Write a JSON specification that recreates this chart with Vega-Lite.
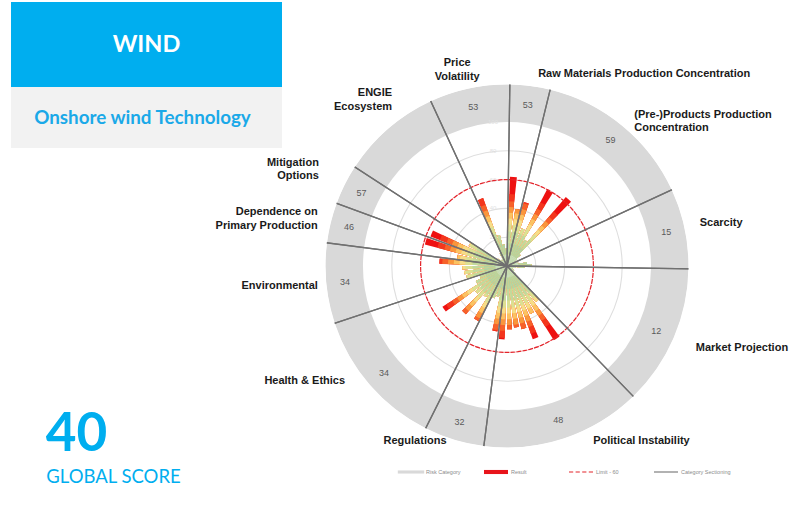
{
  "$schema": "https://vega.github.io/schema/vega-lite/v6.json",
  "padding": {"left": 11, "top": 2, "right": 0, "bottom": 0},
  "background": "white",
  "spacing": 271,
  "bounds": "flush",
  "config": {"view": {"stroke": null}, "font": "Liberation Sans"},
  "datasets": {
    "bars": [
      {"i": 0, "v": 62}, {"i": 1, "v": 40}, {"i": 2, "v": 46}, {"i": 3, "v": 28}, {"i": 4, "v": 60},
      {"i": 5, "v": 22}, {"i": 6, "v": 63}, {"i": 7, "v": 12}, {"i": 8, "v": 8}, {"i": 9, "v": 6},
      {"i": 10, "v": 5}, {"i": 11, "v": 8}, {"i": 12, "v": 14}, {"i": 13, "v": 17},
      {"i": 14, "v": 12}, {"i": 15, "v": 6}, {"i": 16, "v": 4}, {"i": 17, "v": 4}, {"i": 18, "v": 5}, {"i": 19, "v": 6}, {"i": 20, "v": 8},
      {"i": 21, "v": 32}, {"i": 22, "v": 61}, {"i": 23, "v": 37}, {"i": 24, "v": 54}, {"i": 25, "v": 45}, {"i": 26, "v": 43}, {"i": 27, "v": 44}, {"i": 28, "v": 51},
      {"i": 29, "v": 46}, {"i": 30, "v": 22}, {"i": 31, "v": 24},
      {"i": 32, "v": 43}, {"i": 33, "v": 26}, {"i": 34, "v": 44}, {"i": 35, "v": 28}, {"i": 36, "v": 53}, {"i": 37, "v": 24}, {"i": 38, "v": 20},
      {"i": 39, "v": 29}, {"i": 40, "v": 30}, {"i": 41, "v": 31}, {"i": 42, "v": 47},
      {"i": 43, "v": 35}, {"i": 44, "v": 59},
      {"i": 45, "v": 57}, {"i": 46, "v": 30},
      {"i": 47, "v": 8}, {"i": 48, "v": 6}, {"i": 49, "v": 5}, {"i": 50, "v": 6}, {"i": 51, "v": 10},
      {"i": 52, "v": 50}, {"i": 53, "v": 22}, {"i": 54, "v": 15}, {"i": 55, "v": 12}
    ],
    "cats": [
      {"k": 0, "cat": "Raw Materials Production Concentration", "n": 2, "score": "53", "lab": ["Raw Materials Production Concentration"]},
      {"k": 1, "cat": "(Pre-)Products Production Concentration", "n": 8, "score": "59", "lab": ["(Pre-)Products Production", "Concentration"]},
      {"k": 2, "cat": "Scarcity", "n": 4, "score": "15", "lab": ["Scarcity"]},
      {"k": 3, "cat": "Market Projection", "n": 7, "score": "12", "lab": ["Market Projection"]},
      {"k": 4, "cat": "Political Instability", "n": 8, "score": "48", "lab": ["Political Instability"]},
      {"k": 5, "cat": "Regulations", "n": 3, "score": "32", "lab": ["Regulations"]},
      {"k": 6, "cat": "Health & Ethics", "n": 7, "score": "34", "lab": ["Health & Ethics"]},
      {"k": 7, "cat": "Environmental", "n": 4, "score": "34", "lab": ["Environmental"]},
      {"k": 8, "cat": "Dependence on Primary Production", "n": 2, "score": "46", "lab": ["Dependence on", "Primary Production"]},
      {"k": 9, "cat": "Mitigation Options", "n": 2, "score": "57", "lab": ["Mitigation", "Options"]},
      {"k": 10, "cat": "ENGIE Ecosystem", "n": 5, "score": "", "lab": ["ENGIE", "Ecosystem"]},
      {"k": 11, "cat": "Price Volatility", "n": 4, "score": "53", "lab": ["Price", "Volatility"]}
    ],
    "legend": [
      {"item": "Risk Category"}, {"item": "Result"}, {"item": "Limit - 60"}, {"item": "Category Sectioning"}
    ]
  },
  "hconcat": [
    {
      "spacing": 0,
      "bounds": "flush",
      "vconcat": [
        {"width": 271, "height": 85, "view": {"fill": "#00aeef", "stroke": null},
         "data": {"values": [{"t": "WIND"}]},
         "mark": {"type": "text", "font": "Lato", "fontSize": 23.5, "fontWeight": "bold", "color": "#ffffff"},
         "encoding": {"text": {"field": "t", "type": "nominal"}}},
        {"width": 271, "height": 61, "view": {"fill": "#f2f2f2", "stroke": null},
         "data": {"values": [{"t": "Onshore wind Technology"}]},
         "mark": {"type": "text", "font": "Lato", "fontSize": 18.8, "fontWeight": "bold", "color": "#1ba9e8", "dx": -4},
         "encoding": {"text": {"field": "t", "type": "nominal"}}},
        {"width": 271, "height": 262,
         "data": {"values": [{"t": ""}]},
         "mark": {"type": "text"},
         "encoding": {"text": {"field": "t", "type": "nominal"}}},
        {"width": 131, "height": 50,
         "data": {"values": [{"t": "40"}]},
         "mark": {"type": "text", "font": "Lato", "fontSize": 53, "fontWeight": "bold", "color": "#00aeef"},
         "encoding": {"text": {"field": "t", "type": "nominal"}}},
        {"width": 205, "height": 34,
         "data": {"values": [{"t": "GLOBAL SCORE"}]},
         "mark": {"type": "text", "font": "Lato", "fontSize": 18.5, "color": "#00aeef"},
         "encoding": {"text": {"field": "t", "type": "nominal"}}}
      ]
    },
    {
      "spacing": 0,
      "bounds": "flush",
      "vconcat": [
        {"width": 450, "height": 64,
         "data": {"values": [{"t": ""}]},
         "mark": {"type": "text"},
         "encoding": {"text": {"field": "t", "type": "nominal"}}},
        {
          "width": 450,
          "height": 400,
          "layer": [
            {"data": {"name": "cats"},
             "mark": {"type": "arc", "color": "#d9d9d9"},
             "encoding": {
               "theta": {"field": "n", "type": "quantitative", "stack": true, "scale": {"type": "linear", "domain": [0, 56], "range": [0.0157, 6.2989]}},
               "order": {"field": "k", "type": "quantitative"},
               "radius": {"datum": 100, "type": "quantitative", "scale": {"type": "linear", "domain": [0, 100], "range": [0, 144]}},
               "radius2": {"datum": 126}
             }},
            {"data": {"values": [{"g": 20}, {"g": 40}, {"g": 80}]},
             "mark": {"type": "arc", "fillOpacity": 0, "stroke": "#dedede", "strokeWidth": 1.1},
             "encoding": {
               "theta": {"value": 0}, "theta2": {"value": 6.2832},
               "radius": {"field": "g", "type": "quantitative", "scale": {"type": "linear", "domain": [0, 100], "range": [0, 144]}},
               "radius2": {"field": "g"}
             }},
            {"data": {"values": [{"g": 20}, {"g": 40}, {"g": 60}, {"g": 80}, {"g": 100}]},
             "mark": {"type": "text", "fontSize": 6, "color": "#e2e2e2", "dx": -14},
             "encoding": {
               "theta": {"value": 0},
               "radius": {"field": "g", "type": "quantitative", "scale": {"type": "linear", "domain": [0, 100], "range": [0, 144]}},
               "text": {"field": "g", "type": "nominal"}
             }},
            {"data": {"name": "bars"}, "mark": {"type": "arc", "color": "#ee1111"},
             "encoding": {"theta": {"field": "i", "type": "ordinal", "scale": {"type": "band", "range": [0.0157, 6.2989], "paddingInner": 0.3, "paddingOuter": 0.15}},
               "radius": {"field": "v", "type": "quantitative", "stack": null, "scale": {"type": "linear", "domain": [0, 100], "range": [0, 144], "clamp": true}}}},
            {"data": {"name": "bars"}, "mark": {"type": "arc", "color": "#f3361d"},
             "encoding": {"theta": {"field": "i", "type": "ordinal", "scale": {"type": "band", "range": [0.0157, 6.2989], "paddingInner": 0.3, "paddingOuter": 0.15}},
               "radius": {"field": "v", "type": "quantitative", "stack": null, "scale": {"type": "linear", "domain": [0, 50], "range": [0, 72], "clamp": true}}}},
            {"data": {"name": "bars"}, "mark": {"type": "arc", "color": "#f6622a"},
             "encoding": {"theta": {"field": "i", "type": "ordinal", "scale": {"type": "band", "range": [0.0157, 6.2989], "paddingInner": 0.3, "paddingOuter": 0.15}},
               "radius": {"field": "v", "type": "quantitative", "stack": null, "scale": {"type": "linear", "domain": [0, 45], "range": [0, 64.8], "clamp": true}}}},
            {"data": {"name": "bars"}, "mark": {"type": "arc", "color": "#f9963c"},
             "encoding": {"theta": {"field": "i", "type": "ordinal", "scale": {"type": "band", "range": [0.0157, 6.2989], "paddingInner": 0.3, "paddingOuter": 0.15}},
               "radius": {"field": "v", "type": "quantitative", "stack": null, "scale": {"type": "linear", "domain": [0, 41], "range": [0, 59.04], "clamp": true}}}},
            {"data": {"name": "bars"}, "mark": {"type": "arc", "color": "#fbc262"},
             "encoding": {"theta": {"field": "i", "type": "ordinal", "scale": {"type": "band", "range": [0.0157, 6.2989], "paddingInner": 0.3, "paddingOuter": 0.15}},
               "radius": {"field": "v", "type": "quantitative", "stack": null, "scale": {"type": "linear", "domain": [0, 37], "range": [0, 53.28], "clamp": true}}}},
            {"data": {"name": "bars"}, "mark": {"type": "arc", "color": "#f6dd88"},
             "encoding": {"theta": {"field": "i", "type": "ordinal", "scale": {"type": "band", "range": [0.0157, 6.2989], "paddingInner": 0.3, "paddingOuter": 0.15}},
               "radius": {"field": "v", "type": "quantitative", "stack": null, "scale": {"type": "linear", "domain": [0, 33], "range": [0, 47.52], "clamp": true}}}},
            {"data": {"name": "bars"}, "mark": {"type": "arc", "color": "#dbe093"},
             "encoding": {"theta": {"field": "i", "type": "ordinal", "scale": {"type": "band", "range": [0.0157, 6.2989], "paddingInner": 0.3, "paddingOuter": 0.15}},
               "radius": {"field": "v", "type": "quantitative", "stack": null, "scale": {"type": "linear", "domain": [0, 29], "range": [0, 41.76], "clamp": true}}}},
            {"data": {"name": "bars"}, "mark": {"type": "arc", "color": "#c2d99c"},
             "encoding": {"theta": {"field": "i", "type": "ordinal", "scale": {"type": "band", "range": [0.0157, 6.2989], "paddingInner": 0.3, "paddingOuter": 0.15}},
               "radius": {"field": "v", "type": "quantitative", "stack": null, "scale": {"type": "linear", "domain": [0, 24], "range": [0, 34.56], "clamp": true}}}},
            {"data": {"name": "bars"}, "mark": {"type": "arc", "color": "#b3d2a0"},
             "encoding": {"theta": {"field": "i", "type": "ordinal", "scale": {"type": "band", "range": [0.0157, 6.2989], "paddingInner": 0.3, "paddingOuter": 0.15}},
               "radius": {"field": "v", "type": "quantitative", "stack": null, "scale": {"type": "linear", "domain": [0, 16], "range": [0, 23.04], "clamp": true}}}},
            {"data": {"name": "bars"}, "mark": {"type": "arc", "color": "#cde1c0"},
             "encoding": {"theta": {"field": "i", "type": "ordinal", "scale": {"type": "band", "range": [0.0157, 6.2989], "paddingInner": 0.3, "paddingOuter": 0.15}},
               "radius": {"field": "v", "type": "quantitative", "stack": null, "scale": {"type": "linear", "domain": [0, 8], "range": [0, 11.52], "clamp": true}}}},
            {"data": {"values": [{"lim": 60}]},
             "mark": {"type": "arc", "fillOpacity": 0, "stroke": "#e3242b", "strokeWidth": 1.2, "strokeDash": [3.5, 2.5]},
             "encoding": {
               "theta": {"value": 0}, "theta2": {"value": 6.2832},
               "radius": {"field": "lim", "type": "quantitative", "scale": {"type": "linear", "domain": [0, 100], "range": [0, 144]}},
               "radius2": {"field": "lim"}
             }},
            {"data": {"name": "cats"},
             "mark": {"type": "arc", "fillOpacity": 0, "stroke": "#707070", "strokeWidth": 1.3},
             "encoding": {
               "theta": {"field": "n", "type": "quantitative", "stack": true, "scale": {"type": "linear", "domain": [0, 56], "range": [0.0157, 6.2989]}},
               "order": {"field": "k", "type": "quantitative"},
               "radius": {"datum": 128, "type": "quantitative", "scale": {"type": "linear", "domain": [0, 100], "range": [0, 144]}},
               "radius2": {"datum": 0}
             }},
            {"data": {"values": [{"a": 1}]},
             "mark": {"type": "arc", "color": "#ffffff"},
             "encoding": {
               "theta": {"value": 0}, "theta2": {"value": 6.2832},
               "radius": {"datum": 126.2, "type": "quantitative", "scale": {"type": "linear", "domain": [0, 100], "range": [0, 144]}},
               "radius2": {"datum": 132}
             }},
            {"data": {"name": "cats"},
             "mark": {"type": "text", "fontSize": 9, "color": "#595959"},
             "encoding": {
               "theta": {"field": "n", "type": "quantitative", "stack": true, "scale": {"type": "linear", "domain": [0, 56], "range": [0.0157, 6.2989]}},
               "order": {"field": "k", "type": "quantitative"},
               "radius": {"datum": 113, "type": "quantitative", "scale": {"type": "linear", "domain": [0, 100], "range": [0, 144]}},
               "text": {"field": "score", "type": "nominal"}
             }},
            {"data": {"name": "cats"},
             "mark": {"type": "text", "fontSize": 11, "fontWeight": "bold", "color": "#1a1a1a", "lineHeight": 13.5, "radius": 197,
                      "align": {"expr": "datum.k < 5 ? 'left' : datum.k < 11 ? 'right' : 'center'"},
                      "dx": {"expr": "[6,2,0,8,24,-3,-13,7,2,-12,14,-9][datum.k]"},
                      "dy": {"expr": "[3,1,-2,4,-12,-13,-14,1,-7,-15,-24,-10][datum.k]"}},
             "encoding": {
               "theta": {"field": "n", "type": "quantitative", "stack": true, "scale": {"type": "linear", "domain": [0, 56], "range": [0.0157, 6.2989]}},
               "order": {"field": "k", "type": "quantitative"},
               "text": {"field": "lab", "type": "nominal"}
             }}
          ],
          "resolve": {"scale": {"theta": "independent", "radius": "independent"}}
        },
        {
          "width": 450,
          "height": 12,
          "data": {"name": "legend"},
          "layer": [
            {"mark": {"type": "point", "filled": true, "size": 576, "opacity": 1},
             "encoding": {
               "x": {"field": "item", "type": "nominal", "sort": null, "scale": {"type": "point", "range": [129, 384], "padding": 0}, "axis": null},
               "shape": {"field": "item", "type": "nominal", "sort": null, "legend": null,
                 "scale": {"range": [
                   "M-1.1,-0.13H1.1V0.13H-1.1Z",
                   "M-1,-0.17H1V0.17H-1Z",
                   "M-1,-0.05H-0.65V0.05H-1Z M-0.45,-0.05H-0.1V0.05H-0.45Z M0.1,-0.05H0.45V0.05H0.1Z M0.65,-0.05H1V0.05H0.65Z",
                   "M-1,-0.045H1V0.045H-1Z"]}},
               "color": {"field": "item", "type": "nominal", "sort": null, "legend": null,
                 "scale": {"range": ["#d9d9d9", "#e8141b", "#e3242b", "#707070"]}}
             }},
            {"mark": {"type": "text", "align": "left", "dx": 15, "fontSize": 5.5, "color": "#8c8c8c"},
             "encoding": {
               "x": {"field": "item", "type": "nominal", "sort": null, "scale": {"type": "point", "range": [129, 384], "padding": 0}, "axis": null},
               "text": {"field": "item", "type": "nominal"}
             }}
          ]
        }
      ]
    }
  ]
}
